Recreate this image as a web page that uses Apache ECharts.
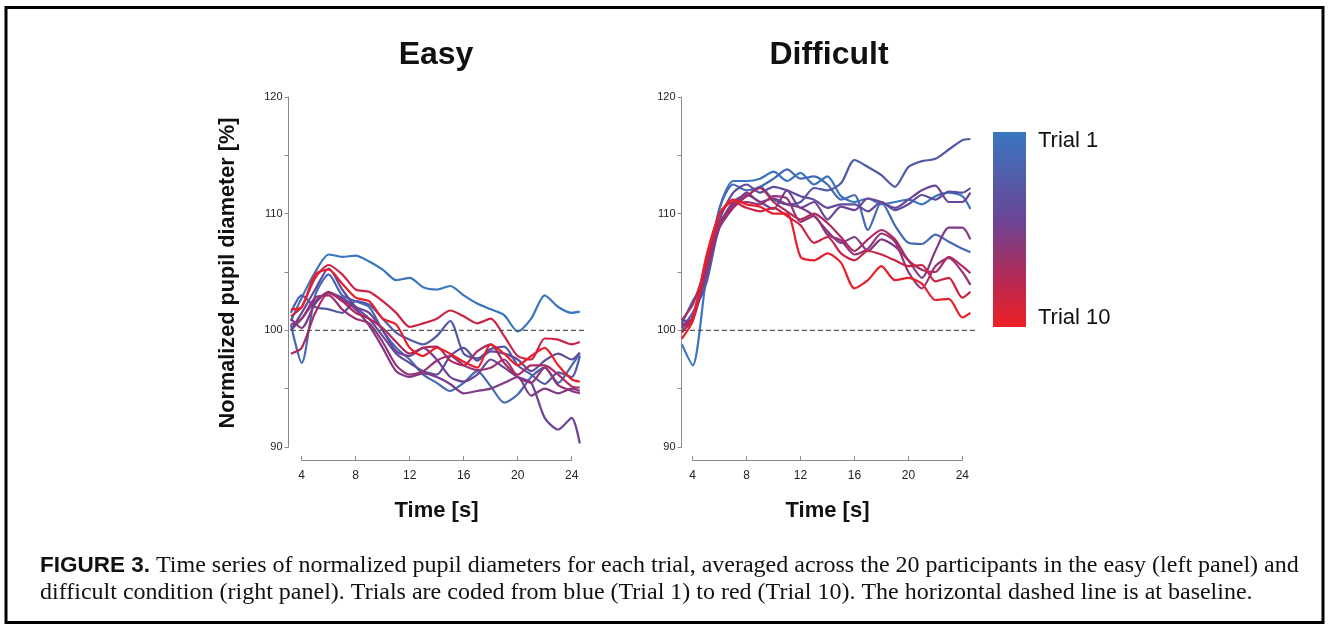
<!DOCTYPE html>
<html>
<head>
<meta charset="utf-8">
<script src="https://cdn.jsdelivr.net/npm/echarts@6/dist/echarts.min.js"></script>
<style>
html,body{margin:0;padding:0;background:#fff;}
#chart{width:1328px;height:627px;}
</style>
</head>
<body>
<div id="chart"></div>
<script>
// ---- data ----
const times = [3.2,4,5,6,7,8,9,10,11,12,13,14,15,16,17,18,19,20,21,22,23,24,24.6];
const xTicks = [4,8,12,16,20,24];
const yLabels = [90,100,110,120];
const baselineTimes = [3.2, 25.0];
const baselineValue = 100;
const trialNames = ['Trial 1','Trial 2','Trial 3','Trial 4','Trial 5','Trial 6','Trial 7','Trial 8','Trial 9','Trial 10'];

// Easy condition
const easyT1  = [100.8,102.8,105.0,106.5,106.3,106.4,105.9,105.2,104.3,104.5,103.7,103.5,103.8,103.0,102.3,101.8,101.3,99.9,101.0,103.0,102.0,101.5,101.6];
const easyT2  = [100.5,97.2,103.0,104.8,103.0,102.5,102.0,100.0,98.5,97.5,96.2,95.5,94.8,95.5,96.5,95.2,93.8,94.5,96.0,96.8,95.5,97.0,98.0];
const easyT3  = [101.5,103.0,102.0,101.8,101.5,102.5,102.2,101.0,99.8,99.2,98.8,99.5,100.8,98.0,97.6,98.4,98.6,97.0,96.2,95.4,96.4,96.0,97.8];
const easyT4  = [100.0,101.5,103.5,105.3,103.5,102.0,101.0,99.5,98.0,97.2,96.5,96.2,97.8,98.5,97.4,98.2,98.0,97.5,96.5,97.4,98.0,97.5,98.1];
const easyT5  = [100.0,101.0,102.5,103.2,102.8,102.0,101.5,100.0,98.2,97.8,98.5,97.5,96.0,95.6,96.2,97.5,96.8,96.0,95.5,92.5,91.5,92.5,90.3];
const easyT6  = [101.0,100.2,102.3,103.3,102.6,101.8,100.4,98.5,96.5,96.0,96.3,96.0,95.4,94.6,94.8,95.0,95.5,96.0,94.4,95.0,94.6,95.0,94.8];
const easyT7  = [100.5,101.0,102.8,103.0,101.8,101.0,100.6,99.0,97.0,96.2,96.5,97.4,97.8,97.0,96.6,96.8,97.5,96.0,95.5,96.8,95.3,94.8,94.6];
const easyT8  = [98.0,98.5,101.5,103.2,102.5,101.5,101.0,100.2,99.0,98.0,98.5,98.6,97.4,97.0,98.2,98.8,97.2,96.2,97.0,97.0,96.2,95.2,95.1];
const easyT9  = [101.2,102.0,104.5,105.6,104.8,103.5,103.3,102.5,101.5,100.3,100.6,101.0,101.7,101.2,100.6,101.0,99.5,97.8,97.5,99.3,99.2,98.8,99.0];
const easyT10 = [101.8,102.0,104.8,105.2,104.0,102.8,102.5,101.0,100.5,98.5,97.8,98.5,98.0,97.3,96.8,98.8,98.0,97.0,97.8,98.5,97.0,95.8,95.6];

// Difficult condition
const hardT1  = [98.8,97.0,104.5,110.5,112.8,112.8,113.0,113.6,112.8,113.5,112.5,113.2,111.5,111.0,111.3,110.8,111.0,111.2,110.8,111.5,111.8,111.5,110.4];
const hardT2  = [100.6,102.5,104.5,110.5,112.5,112.0,112.3,113.0,113.8,113.0,113.2,112.5,111.2,111.6,108.6,111.0,109.0,107.5,107.4,108.2,107.6,107.0,106.7];
const hardT3  = [100.2,101.5,104.0,109.0,110.8,111.5,112.3,111.2,110.8,111.0,112.2,112.0,112.6,114.6,114.0,113.3,112.3,114.0,114.5,114.7,115.5,116.3,116.4];
const hardT4  = [100.8,101.0,105.5,109.5,111.8,112.5,111.8,112.3,112.0,111.5,111.2,110.5,110.8,110.8,110.2,111.0,110.3,110.8,111.6,111.2,111.9,111.8,112.2];
const hardT5  = [100.0,100.8,105.0,109.0,111.0,111.6,111.0,110.4,112.0,110.5,111.0,109.5,110.6,110.3,111.3,111.0,110.5,111.2,112.0,112.4,111.0,111.0,111.8];
const hardT6  = [100.3,101.0,104.8,108.8,110.5,111.8,111.0,111.3,110.8,110.5,109.8,108.5,107.5,108.0,106.8,107.8,107.2,106.0,104.5,106.8,108.8,108.8,107.8];
const hardT7  = [100.5,101.0,105.0,109.0,110.8,111.0,110.8,111.5,111.3,109.3,109.8,108.2,107.7,106.5,107.0,108.3,107.6,105.0,103.6,105.5,106.2,105.0,103.9];
const hardT8  = [100.9,102.2,105.5,109.3,110.5,111.5,112.2,111.0,110.2,109.5,110.0,109.2,108.0,106.8,107.8,108.6,107.8,106.0,105.2,105.0,106.3,105.5,104.9];
const hardT9  = [99.8,101.2,106.0,110.0,111.0,110.5,110.2,110.5,109.8,109.0,107.5,108.0,106.6,106.0,106.8,106.5,106.0,105.5,105.6,104.2,104.5,102.8,103.3];
const hardT10 = [99.3,100.8,106.3,110.0,111.2,110.8,110.6,110.0,110.0,106.3,106.0,106.6,105.8,103.6,104.3,105.5,104.3,104.5,104.0,102.6,102.7,101.1,101.5];

const easyTrials = [easyT1,easyT2,easyT3,easyT4,easyT5,easyT6,easyT7,easyT8,easyT9,easyT10];
const hardTrials = [hardT1,hardT2,hardT3,hardT4,hardT5,hardT6,hardT7,hardT8,hardT9,hardT10];

// ---- style / layout ----
const trialColors = ['#3a75bf','#4469b5','#5159a8','#5e4c9e','#6c4396','#7f3a87','#963275','#ad2a5f','#c92446','#e8202b'];

const chart = echarts.init(document.getElementById('chart'), null, {renderer:'canvas'});

// visible x-axis extents (t = 4 .. 24) for each panel
const axisLeft = [301.7, 692.7];
const axisWidth = [270, 269.6];
// y-axis line positions; data grids start there and extend past t=24
const yAxisX = [288.5, 681.5];
const dataTmax = 25.4;
const plotTop = 97, plotHeight = 350;

const grids = [], xAxes = [], yAxes = [];
for (let i = 0; i < 2; i++) {
  const pxPerS = axisWidth[i] / 20;
  const tmin = 4 - (axisLeft[i] - yAxisX[i]) / pxPerS;
  const dataWidth = (dataTmax - tmin) * pxPerS;
  // data grid (index 2*i)
  grids.push({left:yAxisX[i], top:plotTop, width:dataWidth, height:plotHeight});
  // axis grid (index 2*i+1)
  grids.push({left:axisLeft[i], top:plotTop, width:axisWidth[i], height:plotHeight});

  xAxes.push({type:'value', gridIndex:2*i, min:tmin, max:dataTmax, show:false});
  xAxes.push({
    type:'value', gridIndex:2*i+1, min:xTicks[0], max:xTicks[xTicks.length-1], interval:4, offset:13,
    axisLine:{show:true, lineStyle:{color:'#8a8a8a', width:1}},
    axisTick:{show:true, inside:true, length:4, lineStyle:{color:'#8a8a8a'}},
    axisLabel:{color:'#222', fontSize:12, margin:10, fontFamily:'Liberation Sans'},
    splitLine:{show:false}
  });

  yAxes.push({
    type:'value', gridIndex:2*i, min:90, max:120, interval:5,
    axisLine:{show:true, lineStyle:{color:'#8a8a8a', width:1}},
    axisTick:{show:true, inside:false, length:4, lineStyle:{color:'#8a8a8a'}},
    axisLabel:{color:'#222', fontSize:11, margin:6, fontFamily:'Liberation Sans',
      formatter:function(v){ return yLabels.indexOf(v) >= 0 ? String(v) : ''; }},
    splitLine:{show:false}
  });
  yAxes.push({type:'value', gridIndex:2*i+1, min:90, max:120, show:false});
}

const series = [];
[easyTrials, hardTrials].forEach(function(trials, gi){
  const ax = 2*gi;
  trials.forEach(function(vals, k){
    series.push({
      type:'line', name:trialNames[k], xAxisIndex:ax, yAxisIndex:ax,
      data: times.map(function(t, j){ return [t, vals[j]]; }),
      showSymbol:false, smooth:0.25,
      lineStyle:{color:trialColors[k], width:2.2},
      itemStyle:{color:trialColors[k]},
      z:2+k, silent:true
    });
  });
  series.push({
    type:'line', name:'baseline', xAxisIndex:ax, yAxisIndex:ax,
    data: baselineTimes.map(function(t){ return [t, baselineValue]; }),
    showSymbol:false,
    lineStyle:{color:'#555', width:1.2, type:[5,3]},
    z:20, silent:true
  });
});

const titleFont = 'bold 32px "Liberation Sans", Arial, sans-serif';
const labelFont = 'bold 22px "Liberation Sans", Arial, sans-serif';

const option = {
  backgroundColor:'#ffffff',
  animation:false,
  grid: grids,
  xAxis: xAxes,
  yAxis: yAxes,
  series: series,
  graphic: [
    {type:'rect', shape:{x:6, y:7.5, width:1317, height:615}, style:{fill:null, stroke:'#000', lineWidth:3}, z:0},
    {type:'text', x:436, y:55, style:{text:'Easy', font:titleFont, fill:'#111', textAlign:'center', textVerticalAlign:'middle'}},
    {type:'text', x:829, y:55, style:{text:'Difficult', font:titleFont, fill:'#111', textAlign:'center', textVerticalAlign:'middle'}},
    {type:'text', x:436.5, y:511, style:{text:'Time [s]', font:labelFont, fill:'#111', textAlign:'center', textVerticalAlign:'middle'}},
    {type:'text', x:827.5, y:511, style:{text:'Time [s]', font:labelFont, fill:'#111', textAlign:'center', textVerticalAlign:'middle'}},
    {type:'text', x:228, y:273, rotation:Math.PI/2, style:{text:'Normalized pupil diameter [%]', font:'bold 21.7px "Liberation Sans", Arial, sans-serif', fill:'#111', textAlign:'center', textVerticalAlign:'middle'}},
    {type:'rect', shape:{x:993, y:132, width:33, height:195},
      style:{fill:new echarts.graphic.LinearGradient(0,0,0,1,[
        {offset:0, color:'#3a76c0'},{offset:0.45, color:'#6a4596'},{offset:0.75, color:'#b42a55'},{offset:1, color:'#ee1f25'}])}},
    {type:'text', x:1038, y:141, style:{text:'Trial 1', font:'22px "Liberation Sans", Arial, sans-serif', fill:'#111', textAlign:'left', textVerticalAlign:'middle'}},
    {type:'text', x:1038, y:318, style:{text:'Trial 10', font:'22px "Liberation Sans", Arial, sans-serif', fill:'#111', textAlign:'left', textVerticalAlign:'middle'}},
    {type:'text', x:40, y:566, style:{
      text:'{b|FIGURE 3.} Time series of normalized pupil diameters for each trial, averaged across the 20 participants in the easy (left panel) and',
      font:'24px "Liberation Serif", "Times New Roman", serif', fill:'#111', textAlign:'left', textVerticalAlign:'middle',
      rich:{b:{font:'bold 22.5px "Liberation Sans", Arial, sans-serif', fill:'#111'}}}},
    {type:'text', x:40, y:593, style:{
      text:'difficult condition (right panel). Trials are coded from blue (Trial 1) to red (Trial 10). The horizontal dashed line is at baseline.',
      font:'24px "Liberation Serif", "Times New Roman", serif', fill:'#111', textAlign:'left', textVerticalAlign:'middle'}}
  ]
};
chart.setOption(option);
</script>
</body>
</html>
